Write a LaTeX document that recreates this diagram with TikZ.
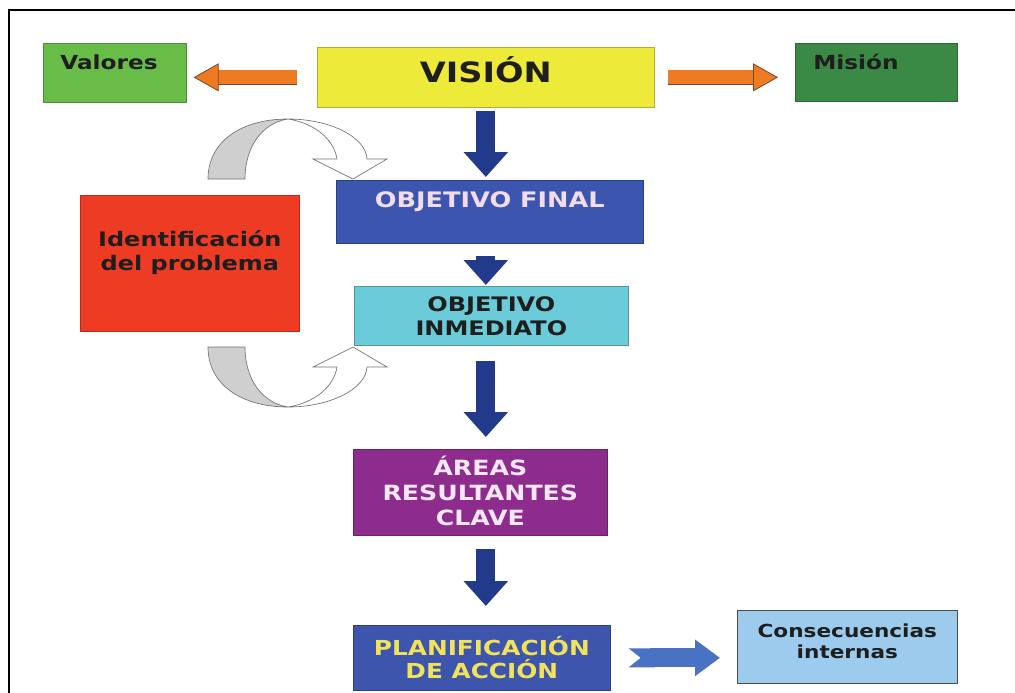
\documentclass[tikz,border=0pt]{standalone}
\usepackage{fontspec}
\setmainfont{DejaVu Sans}[FakeStretch=1.2]
\usetikzlibrary{arrows.meta}

\definecolor{cValores}{RGB}{104,188,72}
\definecolor{cVision}{RGB}{238,234,58}
\definecolor{cMision}{RGB}{58,138,69}
\definecolor{cProblema}{RGB}{238,60,36}
\definecolor{cFinal}{RGB}{60,85,174}
\definecolor{cInmed}{RGB}{108,203,216}
\definecolor{cAreas}{RGB}{142,44,142}
\definecolor{cPlan}{RGB}{61,85,173}
\definecolor{cConsec}{RGB}{157,203,238}
\definecolor{cNavy}{RGB}{33,58,140}
\definecolor{cOrange}{RGB}{238,122,34}
\definecolor{cOrangeEdge}{RGB}{120,70,40}
\definecolor{cBlueArr}{RGB}{74,114,196}
\definecolor{cGris}{RGB}{207,207,207}
\definecolor{cTexto}{RGB}{30,30,30}
\definecolor{cTextFinal}{RGB}{242,220,234}
\definecolor{cTextAreas}{RGB}{245,232,244}
\definecolor{cTextPlan}{RGB}{242,226,90}

\begin{document}
\begin{tikzpicture}[x=0.75pt,y=0.75pt,yscale=-1,xscale=1,
    caja/.style={fill=#1, draw=#1!75!black, line width=0.5pt, anchor=north west, inner sep=0pt, align=center, text=cTexto},
    flechaAzul/.style={draw=cNavy, line width=14.25pt, -{Triangle[width=32.25pt,length=18.75pt]}},
    flechaNaranja/.style={draw=cOrangeEdge, line width=0.6pt, double=cOrange, double distance=10.5pt, -{Triangle[width=21pt,length=18.75pt,fill=cOrange,line width=0.6pt]}},
    flechaMuesca/.style={draw=cBlueArr, line width=14.25pt, {Triangle Cap[reversed,length=9pt]}-{Triangle[width=26.25pt,length=18.75pt]}}]
    \useasboundingbox (0,0) rectangle (1015,693);

    %Frame
    \draw [line width=2pt] (9,693) -- (9,10) -- (1015,10);

    % Boxes
    \node [caja=cValores, minimum width=107.25pt, text width=81.75pt, align=left, inner xsep=12.75pt, text height=19.5pt, text depth=24.75pt, font=\bfseries\fontsize{14.5}{17}\selectfont] (valores) at (43,43) {Valores};
    \node [caja=cVision, minimum width=252.75pt, text height=26.25pt, text depth=18.75pt, font=\bfseries\fontsize{21}{24}\selectfont] (vision) at (317,47) {VISIÓN};
    \node [caja=cMision, minimum width=121.5pt, text width=94.5pt, align=left, inner xsep=13.5pt, text height=19.5pt, text depth=24pt, font=\bfseries\fontsize{14.5}{17}\selectfont] (mision) at (795,43) {Misión};
    \node [caja=cFinal, text=cTextFinal, minimum width=230.25pt, text height=20.25pt, text depth=27pt, font=\bfseries\fontsize{16}{18}\selectfont] (objfinal) at (336,180) {OBJETIVO FINAL};
    \node [caja=cProblema, minimum width=164.25pt, text height=56.25pt, text depth=45.75pt, font=\bfseries\fontsize{15}{18}\selectfont] (problema) at (80,195) {Identificación\\del problema};
    \node [caja=cInmed, minimum width=205.5pt, text height=36.75pt, text depth=7.5pt, font=\bfseries\fontsize{15}{18}\selectfont] (objinmed) at (354,286) {OBJETIVO\\INMEDIATO};
    \node [caja=cAreas, text=cTextAreas, minimum width=190.5pt, text height=57pt, text depth=7.5pt, font=\bfseries\fontsize{15.75}{18.75}\selectfont] (areas) at (353,449) {ÁREAS\\RESULTANTES\\CLAVE};
    \node [caja=cPlan, text=cTextPlan, minimum width=192.75pt, text height=39.75pt, text depth=9pt, font=\bfseries\fontsize{15.5}{17.25}\selectfont] (plan) at (353,625) {PLANIFICACIÓN\\DE ACCIÓN};
    \node [caja=cConsec, draw=black!70, minimum width=165pt, text height=36pt, text depth=18.75pt, font=\bfseries\fontsize{13.5}{15.75}\selectfont] (consec) at (737,610) {Consecuencias\\internas};

    % Arrows
    \draw [flechaNaranja, shorten <=15pt, shorten >=5.25pt] (vision.west) -- (vision.west -| valores.east);
    \draw [flechaNaranja, shorten <=9.75pt, shorten >=12.75pt] (vision.east) -- (vision.east -| mision.west);
    \draw [flechaAzul, shorten <=2.25pt, shorten >=2.25pt] (vision.south) -- (vision.south |- objfinal.north);
    \draw [flechaAzul, shorten <=9pt, shorten >=0.75pt] (objfinal.south -| vision.south) -- (objinmed.north -| vision.south);
    \draw [flechaAzul, shorten <=11.25pt, shorten >=9pt] (objinmed.south -| vision.south) -- (areas.north -| vision.south);
    \draw [flechaAzul, shorten <=9.75pt, shorten >=14.25pt] (areas.south -| vision.south) -- (plan.north -| vision.south);
    \draw [flechaMuesca, shorten <=13.5pt, shorten >=12.75pt] (plan.east) -- (plan.east -| consec.west);

    %Shape: Curved arrows (top one, and its mirror below)
    \foreach \s in {1,-1}{
      \begin{scope}[shift={(0,263)}, yscale=\s]
        \draw [draw=black!55, fill=cGris, line width=0.5pt] (208,-84) .. controls (208,-122) and (242,-144) .. (288,-144) .. controls (262,-140) and (245,-116) .. (245,-84) -- cycle;
        \draw [draw=black!55, fill=white, line width=0.5pt] (288,-144) .. controls (330,-144) and (366,-126) .. (367,-104) -- (387,-104) -- (353,-84) -- (313,-104) -- (337,-104) .. controls (334,-124) and (314,-140) .. (288,-144) -- cycle;
      \end{scope}
    }

\end{tikzpicture}
\end{document}
